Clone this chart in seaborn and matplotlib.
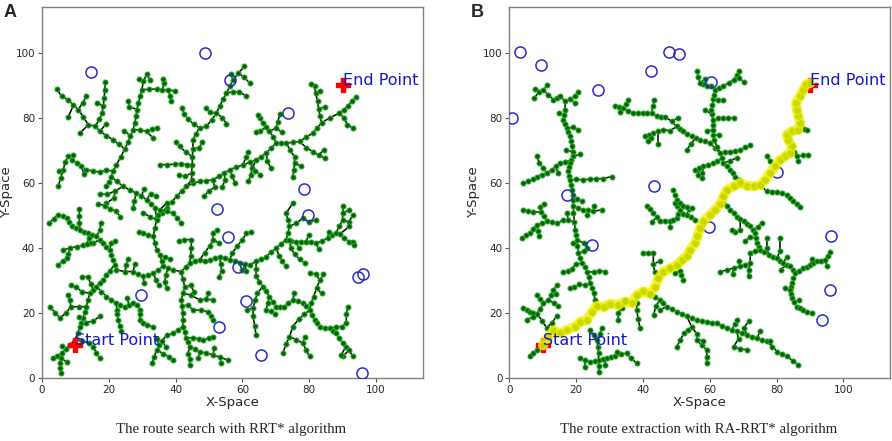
import pandas as pd
import matplotlib
matplotlib.use("Agg")
import matplotlib.pyplot as plt
import seaborn as sns

# ---------------- data ----------------
START = (10, 10)
END = (90, 90)

# obstacles (circles)
OBST_A_X = [14.7, 48.8, 56.2, 73.7, 78.3, 79.7, 52.5, 55.7, 58.7, 94.6, 96.0, 29.7, 61.2, 53.0, 65.5, 95.8]
OBST_A_Y = [94.0, 99.8, 91.5, 81.4, 58.2, 50.2, 52.0, 43.4, 34.2, 30.9, 32.1, 25.5, 23.8, 15.6, 7.0, 1.6]
OBST_B_X = [3.2, 9.4, 0.8, 26.4, 42.3, 47.9, 50.8, 60.3, 43.3, 17.2, 80.2, 24.8, 59.9, 96.2, 96.0, 93.5]
OBST_B_Y = [100.1, 96.2, 80.0, 88.6, 94.2, 100.1, 99.7, 91.1, 58.9, 56.2, 63.4, 41.0, 46.4, 43.7, 26.9, 17.8]

# panel A tree, branch by branch
TREE_A_NW = [
    [(4.4, 88.8), (5.9, 86.6), (7.9, 85.5), (9.4, 83.8), (10.9, 82.5), (12.4, 80.2), (13.9, 77.8), (16.0, 77.4),
     (17.3, 75.8), (19.3, 74.5), (21.3, 73.2), (23.0, 71.8), (24.8, 70.4)],
    [(9.4, 83.8), (7.9, 80.2)],
    [(10.9, 82.5), (12.2, 84.6), (13.3, 86.6)],
    [(13.9, 77.8), (11.4, 75.3)],
    [(16.0, 77.4), (17.2, 79.5), (18.0, 81.5), (18.4, 83.6), (18.6, 86.0), (18.8, 88.4), (19.0, 91.0)],
    [(18.4, 83.6), (16.5, 84.5)],
    [(17.3, 75.8), (19.2, 78.0)],
    [(24.8, 70.4), (25.8, 72.5), (26.5, 74.4), (27.3, 76.3), (27.8, 78.4), (28.2, 80.5), (28.4, 82.5), (28.9, 84.5),
     (29.4, 86.6), (29.9, 88.6), (30.4, 91.2), (31.4, 93.5)],
    [(29.9, 88.6), (32.0, 88.7), (34.3, 88.8), (36.0, 88.6), (37.8, 88.6), (39.7, 88.2)],
    [(36.0, 88.6), (36.6, 90.6), (36.3, 92.0)],
    [(37.8, 88.6), (38.3, 86.6), (38.6, 85.2)],
    [(28.4, 82.5), (26.2, 83.4), (25.8, 85.0)],
    [(27.3, 76.3), (29.3, 76.2), (31.3, 75.8), (33.3, 73.7)],
    [(31.3, 75.8), (33.0, 76.6), (34.3, 76.8)],
    [(30.4, 91.2), (29.0, 91.8)],
    [(31.4, 93.5), (32.3, 91.6)],
    [(26.5, 74.4), (24.6, 76.0)],
    [(24.8, 70.4), (23.6, 68.0), (22.3, 65.5), (21.2, 63.5), (20.8, 61.9), (20.0, 60.3), (19.3, 58.9)],
    [(21.2, 63.5), (19.3, 64.0), (17.3, 63.3), (15.3, 63.6), (13.3, 64.0), (11.8, 65.0), (10.4, 66.1), (9.0, 67.0),
     (7.9, 68.1), (6.9, 66.4), (6.4, 63.8), (5.6, 61.6), (4.9, 58.9)],
    [(7.9, 68.1), (9.2, 68.4)],
    [(6.4, 63.8), (5.0, 63.5)],
    [(11.8, 65.0), (12.6, 62.8)],
    [(20.8, 61.9), (22.4, 60.4), (24.3, 58.9), (26.3, 57.8), (28.3, 56.8), (29.8, 55.8), (31.3, 54.8), (32.6, 53.5),
     (33.8, 52.2), (34.3, 49.6)],
    [(24.3, 58.9), (22.0, 57.5), (19.5, 56.4), (17.3, 56.6)],
    [(22.0, 57.5), (21.5, 55.3), (19.3, 53.7)],
    [(28.3, 56.8), (27.6, 54.4), (27.3, 52.2)],
    [(29.8, 55.8), (30.5, 58.0)],
    [(31.3, 54.8), (32.5, 56.6), (34.0, 56.0)],
]

TREE_A_MID = [
    [(34.3, 49.6), (35.8, 50.8), (37.3, 52.2), (38.8, 54.0), (40.3, 55.8), (41.8, 57.4), (43.2, 58.9), (45.2, 59.8),
     (47.2, 60.4), (49.2, 60.6), (51.2, 60.9), (53.0, 62.0), (54.6, 63.0), (56.2, 64.0), (58.2, 64.8), (60.2, 65.5),
     (62.2, 66.3), (64.1, 67.1), (65.6, 68.0), (67.1, 69.1), (68.6, 70.6), (70.1, 72.2), (71.6, 72.2), (73.1, 72.2),
     (75.1, 72.4), (77.1, 72.7), (79.1, 74.0), (81.1, 75.3), (82.4, 76.9), (83.7, 78.4), (86.1, 79.9), (89.0, 81.4),
     (90.3, 82.5), (91.5, 83.5), (92.8, 85.0), (94.0, 86.4)],
    [(89.0, 81.4), (90.5, 79.8), (91.4, 77.9), (93.0, 76.8)],
    [(83.7, 78.4), (83.2, 80.6), (82.8, 82.8), (82.5, 85.0), (81.9, 87.6), (81.6, 89.6), (80.6, 90.5)],
    [(82.8, 82.8), (84.8, 83.3)],
    [(81.9, 87.6), (83.2, 88.2)],
    [(77.1, 72.7), (79.1, 70.8), (81.1, 69.6), (82.8, 68.5), (84.6, 67.6)],
    [(82.8, 68.5), (84.4, 70.2)],
    [(73.1, 72.2), (74.3, 70.0), (75.6, 68.0), (75.6, 66.0), (75.4, 63.8), (75.1, 61.9)],
    [(75.6, 66.0), (77.4, 65.2)],
    [(70.1, 72.2), (69.2, 74.2), (68.1, 75.8), (67.1, 77.0), (66.1, 78.4), (65.2, 80.0), (64.6, 80.9)],
    [(68.1, 75.8), (70.0, 76.8), (70.6, 78.8), (71.2, 81.0)],
    [(67.1, 77.0), (65.2, 76.0), (64.1, 75.5)],
    [(70.0, 76.8), (72.0, 75.5)],
    [(64.1, 67.1), (63.0, 64.5), (62.5, 62.5), (61.8, 60.5)],
    [(67.1, 69.1), (67.5, 66.6), (68.5, 64.5)],
    [(56.2, 64.0), (57.0, 62.0), (57.7, 60.0)],
    [(51.2, 60.9), (51.7, 58.6), (50.0, 57.5), (48.5, 55.8)],
    [(54.6, 63.0), (54.8, 60.8), (54.0, 58.8)],
    [(60.2, 65.5), (61.0, 67.8), (61.8, 69.5)],
    [(62.2, 66.3), (63.8, 63.5), (65.3, 62.5)],
    [(43.2, 58.9), (44.8, 60.8), (44.8, 63.0), (45.0, 65.5), (45.0, 68.0), (45.2, 70.5), (45.2, 73.0), (46.0, 75.0),
     (47.2, 76.8)],
    [(47.2, 76.8), (45.5, 78.0), (43.8, 79.5), (42.6, 81.2), (41.9, 83.0)],
    [(47.2, 76.8), (49.2, 77.3), (50.8, 79.3), (52.2, 81.4), (53.2, 83.6), (54.2, 85.6), (55.2, 87.6), (56.2, 89.6),
     (57.2, 91.7), (58.8, 93.6), (60.6, 95.8)],
    [(55.2, 87.6), (57.2, 88.0), (59.1, 87.8), (61.1, 86.8)],
    [(57.2, 91.7), (56.5, 93.5)],
    [(58.8, 93.6), (60.5, 92.5), (62.2, 90.6)],
    [(52.2, 81.4), (50.2, 81.8), (49.2, 83.0)],
    [(52.2, 81.4), (54.0, 80.0), (55.2, 78.2)],
    [(45.0, 65.5), (43.3, 65.6), (41.5, 65.9), (39.8, 65.7), (37.5, 65.6), (35.3, 65.5)],
    [(45.0, 68.0), (43.2, 69.3), (41.2, 71.2), (40.0, 72.5)],
    [(45.2, 70.5), (47.0, 70.8), (48.0, 72.4)],
    [(44.8, 63.0), (42.8, 62.0), (41.0, 62.3)],
]

TREE_A_SW = [
    [(2.2, 47.6), (3.5, 49.0), (4.9, 50.2), (6.2, 49.8), (7.4, 49.1), (8.2, 47.8), (8.9, 46.6), (10.2, 46.0),
     (11.4, 45.5), (12.6, 45.0), (13.9, 44.5), (15.1, 44.0), (16.3, 43.5), (17.3, 42.4), (18.3, 41.4), (19.3, 40.4),
     (20.3, 39.4), (20.8, 37.8), (21.3, 36.3), (21.8, 34.8), (22.3, 33.2), (24.8, 32.7), (27.3, 32.7), (28.8, 31.9),
     (30.3, 31.2), (31.8, 31.7), (33.3, 32.2), (34.8, 33.2), (36.3, 34.3), (37.8, 33.8), (39.2, 33.2), (41.7, 32.7)],
    [(11.4, 45.5), (11.2, 47.5), (11.2, 49.7), (11.2, 52.0)],
    [(16.3, 43.5), (17.4, 45.5), (17.6, 47.6)],
    [(20.3, 39.4), (20.6, 41.4), (21.9, 42.0)],
    [(17.3, 42.4), (15.3, 41.6), (14.3, 41.4), (12.3, 40.8), (10.4, 40.4), (8.4, 39.9), (6.4, 39.4)],
    [(8.4, 39.9), (7.9, 38.2), (7.4, 36.8), (6.2, 35.8), (4.9, 34.8)],
    [(13.5, 41.2), (14.0, 43.0)],
    [(27.3, 32.7), (27.8, 35.0)],
    [(30.3, 31.2), (30.6, 29.3)],
    [(24.8, 32.7), (25.3, 34.8), (25.8, 36.7)],
    [(33.3, 32.2), (34.2, 30.0), (35.0, 28.5)],
    [(16.8, 53.5), (18.8, 53.0), (20.5, 52.0), (22.3, 51.2), (23.5, 49.5)],
    [(21.8, 34.8), (20.3, 33.0), (19.3, 31.5), (18.3, 30.2), (17.3, 29.2), (16.3, 28.1), (15.3, 27.0), (14.3, 26.0),
     (13.8, 24.0), (13.3, 21.9), (12.8, 20.2), (12.3, 18.4), (11.8, 17.0), (11.4, 15.8), (10.7, 13.8), (9.9, 11.7),
     (8.4, 10.2), (7.2, 9.0), (5.9, 7.6), (5.6, 6.0), (5.4, 4.5), (5.5, 3.0), (5.6, 1.4)],
    [(9.9, 11.7), (10.0, 10.0)],
    [(5.9, 7.6), (4.5, 6.8), (3.4, 6.0)],
    [(5.6, 6.0), (7.4, 5.0)],
    [(7.2, 9.0), (6.0, 9.8)],
    [(13.3, 21.9), (11.0, 21.9), (8.7, 21.9), (7.2, 20.0), (5.4, 18.4), (4.0, 20.0), (2.4, 21.9)],
    [(8.7, 21.9), (8.3, 24.0), (7.8, 25.5)],
    [(14.3, 26.0), (12.0, 26.5), (10.2, 28.0), (8.6, 28.5)],
    [(11.4, 15.8), (13.3, 17.0), (15.3, 17.5), (17.3, 18.9)],
    [(9.9, 11.7), (12.0, 11.4), (14.0, 10.8), (15.3, 9.6), (16.3, 7.8), (17.3, 6.0)],
    [(15.3, 27.0), (14.6, 29.0), (13.7, 31.0), (11.9, 31.0)],
    [(12.3, 18.4), (11.0, 18.8)],
    [(16.3, 28.1), (17.8, 26.5), (19.3, 25.0), (20.8, 24.0), (22.3, 23.0), (23.5, 22.4), (24.8, 21.9), (26.0, 22.5),
     (27.3, 23.0), (28.5, 22.3), (29.3, 21.0), (29.3, 19.5), (29.3, 17.8), (30.3, 16.9), (31.3, 16.3), (33.3, 15.8)],
    [(22.3, 23.0), (22.4, 21.0), (22.6, 19.5), (22.8, 17.8), (23.3, 16.0), (23.8, 14.3)],
    [(26.0, 22.5), (25.6, 24.5)],
]

TREE_A_S = [
    [(41.7, 32.7), (42.2, 30.4), (42.7, 28.1), (42.2, 26.0), (41.7, 24.0), (41.9, 22.0), (42.2, 19.9), (42.2, 17.8),
     (42.2, 15.8), (42.7, 14.0), (43.2, 12.2), (43.7, 10.9), (44.2, 9.6), (45.7, 8.8), (47.2, 8.1), (49.2, 7.6),
     (51.2, 7.1), (53.4, 6.3), (55.7, 5.5)],
    [(42.2, 15.8), (40.7, 14.8), (39.2, 13.7), (37.5, 13.3), (36.0, 11.5), (35.0, 10.0), (34.3, 8.6), (33.6, 6.5),
     (32.9, 4.5)],
    [(36.0, 11.5), (37.0, 9.5)],
    [(44.2, 9.6), (43.7, 7.5), (44.2, 5.8), (44.2, 4.0)],
    [(34.3, 8.6), (36.3, 7.5), (38.0, 6.5), (39.2, 5.5)],
    [(35.0, 10.0), (34.5, 12.0)],
    [(41.9, 22.0), (43.7, 22.5), (45.2, 20.9), (47.5, 20.8), (49.8, 20.4), (50.5, 19.0), (51.2, 17.8)],
    [(42.2, 26.0), (44.5, 25.5), (47.2, 24.0), (49.2, 24.2), (51.2, 24.0)],
    [(49.2, 24.2), (49.8, 26.2)],
    [(43.2, 12.2), (45.2, 12.4), (47.0, 12.0), (48.2, 11.7), (50.0, 12.3), (51.2, 12.7)],
    [(47.2, 8.1), (46.8, 6.0)],
    [(51.2, 7.1), (51.6, 9.2)],
    [(53.4, 6.3), (53.6, 4.5)],
    [(42.7, 28.1), (44.5, 28.5), (45.5, 26.5)],
    [(36.3, 34.3), (35.8, 36.0), (35.3, 37.8), (34.3, 39.4), (33.8, 41.5), (33.3, 43.5), (31.8, 44.0), (30.3, 44.5),
     (29.0, 44.8)],
    [(33.3, 43.5), (33.8, 46.0), (34.3, 48.6), (34.8, 50.2), (35.3, 51.7), (37.3, 53.7)],
    [(34.3, 48.6), (32.3, 49.6), (30.3, 50.7)],
    [(35.3, 51.7), (37.3, 51.2), (39.2, 50.7), (40.5, 49.2), (41.7, 47.6)],
    [(35.3, 37.8), (36.8, 37.2), (38.3, 36.5)],
    [(37.8, 33.8), (37.0, 31.5), (36.8, 29.5), (37.3, 27.5)],
]

TREE_A_E = [
    [(41.7, 32.7), (43.0, 34.0), (44.2, 35.3), (45.7, 35.8), (47.2, 36.3), (48.7, 36.0), (50.2, 36.2), (51.7, 36.8),
     (53.2, 37.3), (54.7, 36.8), (56.2, 36.3), (57.7, 35.8), (59.2, 35.3), (60.7, 35.0), (62.2, 34.8), (64.1, 35.8),
     (65.6, 36.5), (67.1, 37.3), (68.6, 38.6), (70.1, 39.9), (71.6, 41.2), (73.1, 42.5), (74.6, 42.2), (76.1, 41.9),
     (77.6, 41.9), (79.1, 41.9), (80.6, 41.7), (82.1, 41.4), (83.8, 42.2), (85.6, 43.0), (86.8, 43.8), (88.0, 44.5),
     (89.2, 44.2), (90.5, 43.0), (91.8, 41.9), (93.0, 41.9)],
    [(44.2, 35.3), (44.5, 37.5), (44.7, 40.0), (44.7, 42.5), (42.5, 42.5), (41.0, 42.2)],
    [(47.2, 36.3), (48.7, 38.5), (50.2, 40.5), (51.2, 42.5), (51.2, 44.5), (52.5, 45.5)],
    [(51.2, 42.5), (53.0, 41.5)],
    [(53.2, 37.3), (53.5, 35.0), (53.8, 33.0), (53.0, 31.0)],
    [(56.2, 36.3), (57.0, 38.5), (58.5, 40.5), (60.0, 42.5), (61.2, 44.5), (62.5, 44.8)],
    [(59.2, 35.3), (59.8, 33.3)],
    [(60.7, 35.0), (61.2, 33.0)],
    [(70.1, 39.9), (71.0, 37.5), (72.0, 35.8), (73.0, 34.3)],
    [(73.1, 42.5), (73.6, 44.5), (74.1, 46.6), (73.6, 48.6), (73.1, 50.7), (75.1, 53.7)],
    [(74.1, 46.6), (76.0, 47.5), (78.1, 49.1), (80.0, 48.0), (82.0, 48.5)],
    [(74.1, 42.5), (74.5, 40.0), (75.6, 38.0), (77.1, 36.6), (78.6, 35.3)],
    [(76.1, 41.9), (76.8, 39.8)],
    [(79.1, 41.9), (79.8, 44.0)],
    [(82.1, 41.4), (82.8, 39.5)],
    [(85.6, 43.0), (85.8, 45.0)],
    [(88.0, 44.5), (89.0, 46.6), (90.0, 48.5), (90.0, 50.7), (90.2, 52.7)],
    [(90.0, 48.5), (92.0, 48.0), (93.0, 50.2)],
    [(90.0, 50.7), (91.8, 51.6)],
    [(89.2, 44.2), (92.0, 46.6)],
    [(91.8, 41.9), (93.5, 40.8)],
    [(64.1, 35.8), (64.1, 33.5), (64.1, 31.2), (65.1, 29.6), (66.1, 28.1), (67.1, 26.6), (68.1, 25.0), (69.1, 23.4),
     (70.1, 21.9), (71.3, 21.9), (72.6, 21.9), (73.8, 22.9), (75.1, 24.0), (76.6, 23.5), (78.1, 23.0), (79.1, 22.0),
     (80.1, 20.9), (80.8, 19.3), (81.6, 17.8), (82.3, 16.8), (83.1, 15.8), (84.6, 15.5), (86.1, 15.3), (87.0, 14.5),
     (88.0, 13.7), (89.0, 12.2), (90.0, 10.7), (91.0, 9.6), (92.0, 8.6), (93.0, 6.6)],
    [(66.1, 28.1), (64.5, 26.0), (63.8, 24.0), (63.2, 21.5), (63.2, 18.9), (63.7, 16.0), (64.1, 13.2)],
    [(63.2, 21.5), (61.5, 21.0)],
    [(68.1, 25.0), (67.6, 23.0), (67.1, 20.9), (68.6, 20.5), (69.8, 19.5)],
    [(80.1, 20.9), (80.6, 23.0), (81.3, 25.0), (82.2, 27.5), (83.1, 30.0), (82.0, 32.0), (80.1, 32.2)],
    [(83.1, 30.0), (84.2, 31.8)],
    [(82.2, 27.5), (83.8, 26.0)],
    [(80.1, 20.9), (78.5, 19.5), (76.8, 18.0), (75.1, 15.8), (74.1, 12.7), (73.1, 10.5), (72.1, 7.6)],
    [(74.1, 12.7), (76.0, 11.8), (78.1, 10.7), (79.0, 8.6), (80.1, 6.6)],
    [(78.1, 10.7), (78.6, 12.5)],
    [(86.1, 15.3), (88.0, 15.7), (89.9, 15.8), (91.1, 17.0), (91.1, 19.5), (91.6, 21.9)],
    [(92.0, 8.6), (90.0, 6.6)],
    [(91.0, 9.6), (89.5, 7.0)],
    [(75.1, 24.0), (75.5, 26.0)],
]

# panel B tree
TREE_B_W = [
    [(7.7, 88.8), (9.0, 88.0), (10.2, 88.4), (11.7, 87.0), (13.2, 85.5), (14.2, 86.0), (15.2, 86.6), (16.7, 85.0),
     (18.2, 85.8), (19.7, 86.6)],
    [(10.2, 88.4), (11.2, 89.9)],
    [(9.0, 88.0), (7.4, 86.0)],
    [(19.7, 86.6), (20.5, 88.0)],
    [(18.2, 85.8), (19.6, 84.6)],
    [(16.7, 85.0), (16.7, 82.5), (16.4, 80.9), (16.2, 79.4), (16.7, 78.0), (17.2, 76.8), (17.7, 75.5), (18.2, 74.3),
     (18.5, 72.8), (18.8, 71.2), (19.0, 69.6), (19.1, 68.1), (18.6, 67.0), (18.2, 66.0), (17.9, 64.7), (17.7, 63.5),
     (18.0, 62.2), (18.2, 60.9), (18.5, 59.3), (18.8, 57.8), (19.0, 56.3), (19.1, 54.8), (19.2, 52.7), (19.2, 50.7),
     (19.5, 48.0), (19.7, 45.5), (20.0, 44.0), (20.2, 42.5), (20.4, 40.5), (20.7, 38.4), (21.2, 36.8), (21.7, 35.3),
     (22.5, 34.0), (23.2, 32.7), (23.7, 31.0), (24.2, 29.1), (24.7, 27.5), (25.2, 26.0), (25.7, 24.0)],
    [(16.4, 80.9), (14.8, 81.5)],
    [(17.2, 76.8), (19.0, 77.0), (20.6, 76.3)],
    [(19.1, 68.1), (21.2, 68.8)],
    [(19.0, 69.6), (17.0, 70.0)],
    [(18.2, 60.9), (20.0, 61.0), (22.1, 60.9), (24.0, 61.1), (26.0, 61.2), (28.1, 61.3), (30.6, 61.9)],
    [(18.6, 67.0), (16.8, 66.4), (15.2, 66.0), (14.0, 65.0), (12.7, 64.0), (11.2, 63.0), (9.7, 62.5), (8.2, 61.9),
     (7.0, 61.0), (5.7, 60.4), (4.2, 60.0)],
    [(11.2, 63.0), (10.0, 64.5), (9.0, 66.0), (8.2, 68.1)],
    [(14.0, 65.0), (14.5, 63.0)],
    [(19.2, 52.7), (20.5, 52.3), (22.1, 51.7), (23.6, 51.5), (25.1, 51.2), (27.6, 51.7)],
    [(19.1, 54.8), (20.3, 55.0), (21.7, 54.3)],
    [(25.1, 51.2), (25.4, 53.0)],
    [(23.6, 51.5), (23.2, 50.0)],
    [(19.5, 48.0), (17.7, 48.5), (16.2, 48.5), (14.2, 47.6), (12.7, 48.0), (11.2, 48.1), (9.7, 47.5), (8.2, 47.1),
     (7.2, 45.8), (6.2, 44.5), (5.0, 43.8), (3.7, 43.1)],
    [(11.2, 48.1), (10.3, 49.7), (9.5, 51.0), (9.2, 52.5)],
    [(9.5, 51.0), (7.2, 51.0), (5.7, 51.3), (4.2, 51.7)],
    [(9.2, 52.5), (10.5, 53.5)],
    [(8.2, 47.1), (8.5, 45.2), (9.0, 43.5)],
    [(17.7, 48.5), (17.2, 50.8)],
    [(20.2, 42.5), (22.2, 41.5), (23.2, 40.0)],
    [(20.4, 40.5), (19.2, 41.5)],
    [(21.7, 35.3), (19.9, 35.0), (18.7, 33.5), (17.5, 32.8), (16.2, 32.7)],
    [(23.2, 32.7), (25.2, 32.5), (26.9, 33.0), (28.6, 32.7)],
    [(24.2, 29.1), (22.5, 28.5), (21.0, 28.8), (19.5, 28.0), (18.2, 27.5)],
    [(20.7, 38.4), (22.4, 39.0)],
    [(25.7, 24.0), (26.5, 22.2)],
]

TREE_B_SW = [
    [(4.2, 21.4), (5.2, 20.9), (6.2, 20.4), (7.2, 20.1), (8.2, 19.8), (9.2, 21.3), (10.2, 22.9), (11.7, 24.0),
     (12.5, 25.5), (13.2, 26.9), (14.2, 28.5)],
    [(10.2, 22.9), (9.2, 24.2), (8.2, 25.5)],
    [(8.2, 19.8), (7.0, 18.8), (5.2, 17.8)],
    [(11.7, 24.0), (13.5, 23.0), (14.5, 22.0)],
    [(12.5, 25.5), (14.0, 25.8)],
    [(8.2, 19.8), (9.8, 17.6), (11.2, 15.3), (12.7, 17.0), (14.2, 18.9)],
    [(6.2, 6.6), (7.2, 7.6), (8.2, 8.6), (9.7, 9.6)],
    [(21.2, 6.0), (22.7, 5.5), (24.2, 5.0), (25.5, 5.2), (26.7, 5.5), (28.0, 5.8), (29.1, 6.0), (30.3, 6.3),
     (31.6, 6.6), (33.3, 7.3), (35.1, 7.6), (36.5, 6.0), (38.1, 4.5)],
    [(26.7, 5.5), (26.7, 3.7), (26.7, 1.9)],
    [(22.7, 5.5), (22.6, 3.5)],
    [(26.7, 5.5), (26.7, 7.6), (26.5, 9.5), (26.2, 11.7), (25.2, 13.2), (24.2, 14.8)],
    [(26.2, 11.7), (27.0, 13.5), (27.6, 15.3)],
    [(31.6, 6.6), (32.3, 8.0)],
    [(29.1, 6.0), (28.5, 4.0)],
]

TREE_B_C = [
    [(42.1, 25.8), (43.6, 24.9), (45.1, 24.0), (46.1, 23.0), (47.1, 21.9), (48.6, 21.2), (50.1, 20.4), (51.6, 19.7),
     (53.1, 18.9), (54.6, 18.3), (56.1, 17.8), (57.6, 17.5), (59.1, 17.3), (60.6, 17.0), (62.1, 16.8), (63.6, 16.0),
     (65.1, 15.3), (66.6, 14.8), (68.1, 14.3), (69.6, 13.8), (71.1, 13.2), (72.6, 12.7), (74.1, 12.2), (75.6, 11.7),
     (77.1, 11.2), (78.7, 9.6), (80.2, 8.1), (81.6, 7.3), (83.0, 6.6), (84.8, 5.3), (86.5, 4.0)],
    [(53.1, 18.9), (54.6, 15.7), (53.4, 14.7), (52.2, 13.7), (51.2, 11.7), (50.1, 9.6)],
    [(54.6, 15.7), (56.1, 13.5), (56.1, 11.7), (57.6, 10.1), (59.1, 8.6), (59.1, 6.5), (59.1, 4.5)],
    [(56.1, 11.7), (58.0, 11.5)],
    [(66.6, 14.8), (67.5, 16.5), (68.1, 17.8)],
    [(68.1, 14.3), (68.6, 12.0), (67.1, 9.6), (69.0, 9.0), (71.1, 8.6)],
    [(71.1, 13.2), (70.2, 15.5), (71.8, 17.5)],
    [(74.1, 12.2), (75.1, 14.4)],
    [(78.7, 9.6), (78.0, 11.5)],
    [(45.1, 24.0), (43.8, 22.0), (43.2, 19.3)],
    [(47.1, 21.9), (45.2, 21.0)],
    [(38.1, 25.5), (38.1, 23.0), (38.1, 20.9), (38.6, 18.0), (39.1, 15.3)],
    [(34.6, 23.5), (33.6, 21.5), (32.6, 19.9), (32.6, 17.8)],
    [(44.6, 30.7), (43.5, 32.5), (43.1, 35.0), (43.1, 38.4), (41.6, 38.4), (40.1, 38.4)],
    [(43.1, 35.0), (45.1, 35.9)],
    [(50.1, 34.8), (51.0, 33.0), (51.5, 31.5), (52.0, 30.2)],
    [(48.1, 33.7), (49.5, 32.2)],
    [(41.1, 52.7), (42.0, 51.8), (43.1, 50.7), (44.1, 49.4), (45.1, 48.1), (46.6, 48.1), (48.1, 48.1), (49.1, 48.6),
     (50.1, 49.2), (50.6, 50.4), (51.1, 51.7), (50.3, 52.7), (49.5, 53.7)],
    [(48.1, 48.1), (48.1, 46.5)],
    [(50.6, 50.4), (52.0, 50.5), (53.1, 50.2), (54.3, 49.4), (55.6, 48.6)],
    [(53.1, 50.2), (53.8, 52.0)],
    [(44.1, 49.4), (42.8, 48.0)],
    [(49.1, 57.8), (49.6, 56.3), (50.1, 54.8), (51.1, 53.7), (52.1, 52.7), (53.3, 52.5), (54.6, 52.2)],
]

TREE_B_N = [
    [(31.6, 83.5), (32.8, 83.3), (34.1, 83.0), (35.6, 82.2), (37.1, 81.5), (38.6, 81.5), (40.1, 81.5), (41.3, 81.5),
     (42.6, 81.4), (44.1, 80.4), (45.3, 80.3), (46.6, 80.2), (48.6, 78.9), (50.1, 77.3), (51.1, 76.5), (52.1, 75.8),
     (53.3, 75.0), (54.6, 74.3), (55.8, 73.8), (57.1, 73.2), (58.6, 72.7), (60.1, 72.2), (61.6, 70.6), (63.1, 69.1),
     (64.6, 69.3), (66.1, 69.6), (67.6, 69.9), (69.1, 70.1), (70.6, 70.9), (72.1, 71.7)],
    [(34.1, 83.0), (35.0, 84.3), (35.6, 85.5)],
    [(32.8, 83.3), (33.1, 81.8)],
    [(42.6, 81.4), (43.0, 83.5), (43.3, 85.5)],
    [(48.6, 78.9), (50.6, 80.0)],
    [(50.1, 77.3), (48.1, 76.0), (46.1, 76.3), (44.6, 75.8), (43.1, 75.3), (41.8, 74.8), (40.6, 74.3)],
    [(43.1, 75.3), (42.4, 73.6), (41.6, 72.7)],
    [(44.6, 75.8), (44.6, 72.0)],
    [(55.8, 73.8), (54.4, 72.0), (53.1, 70.1)],
    [(63.1, 69.1), (62.2, 71.0), (61.3, 73.2), (61.0, 74.7), (60.9, 76.2), (60.9, 77.8), (60.9, 79.4), (60.6, 81.0),
     (60.4, 82.5), (60.8, 84.0), (61.1, 85.6), (61.3, 87.1), (61.5, 88.6), (60.3, 89.8), (59.1, 89.6)],
    [(59.1, 89.6), (58.0, 90.3), (57.1, 90.7), (56.6, 92.5), (56.1, 94.3)],
    [(57.1, 90.7), (58.5, 91.8)],
    [(61.5, 88.6), (62.8, 89.2), (64.0, 89.7), (65.6, 90.7), (67.1, 91.7), (68.0, 93.0), (68.6, 94.3)],
    [(67.1, 91.7), (68.6, 92.2), (70.1, 91.1)],
    [(60.6, 81.0), (58.6, 82.5)],
    [(60.9, 79.4), (62.5, 79.8), (64.0, 79.9), (65.5, 79.9), (67.1, 79.9)],
    [(61.1, 85.6), (62.5, 85.4), (64.0, 85.3)],
    [(60.9, 76.2), (59.3, 76.0)],
    [(61.0, 74.7), (62.8, 74.7)],
    [(63.1, 69.1), (63.6, 67.5), (64.1, 66.0), (65.1, 65.0), (66.1, 63.9), (66.9, 62.9), (67.6, 61.9), (68.6, 60.8)],
    [(63.6, 67.5), (62.3, 66.8), (61.1, 66.0), (59.6, 65.5), (58.1, 65.0), (56.8, 64.4), (55.6, 63.9)],
    [(58.1, 65.0), (57.8, 63.0), (57.6, 61.5)],
    [(64.1, 66.0), (66.0, 66.8), (68.1, 67.6)],
    [(56.8, 64.4), (56.6, 62.5)],
    [(75.1, 59.4), (77.0, 57.4), (78.5, 57.3), (80.0, 57.2), (81.5, 56.8), (83.0, 56.3), (84.0, 55.3), (85.0, 54.3),
     (86.0, 53.5), (87.0, 52.6)],
    [(84.5, 71.2), (85.2, 69.6), (86.0, 68.1), (87.8, 68.4), (89.5, 68.6)],
    [(86.0, 68.1), (86.5, 66.8)],
    [(87.0, 78.4), (88.2, 76.5), (89.0, 76.3)],
    [(79.5, 65.0), (78.0, 66.6), (77.0, 68.1)],
]

TREE_B_E = [
    [(65.1, 57.8), (64.1, 55.5), (64.1, 53.7), (65.1, 52.7), (66.1, 51.7), (67.1, 50.6), (68.1, 49.6), (69.1, 48.8),
     (70.1, 48.1), (71.1, 47.3), (72.1, 46.6), (72.8, 45.5), (73.6, 44.5), (73.8, 43.0), (74.1, 41.5), (74.6, 40.4),
     (75.1, 39.4), (76.3, 38.6), (77.6, 37.8), (78.8, 37.3), (80.1, 36.8), (81.0, 36.0), (82.0, 35.3), (83.0, 34.8),
     (84.0, 34.3), (84.8, 33.2), (85.5, 32.2), (86.8, 32.9), (88.0, 33.7), (89.0, 34.2), (90.0, 34.8), (91.0, 35.3),
     (92.0, 35.8), (93.2, 36.0), (94.5, 36.3), (95.3, 37.5), (96.0, 38.8)],
    [(85.5, 32.2), (85.0, 30.6), (84.5, 29.1), (84.2, 28.1), (84.0, 27.1), (84.2, 25.8), (84.5, 24.5), (85.2, 23.2),
     (86.0, 21.9), (87.0, 21.4), (88.0, 20.9), (89.2, 20.4), (90.5, 19.9)],
    [(69.1, 48.8), (69.1, 45.5), (67.6, 44.8), (66.6, 45.5)],
    [(72.8, 45.5), (74.5, 46.5), (75.5, 47.6)],
    [(73.8, 43.0), (72.0, 43.3), (70.5, 42.0)],
    [(75.1, 39.4), (73.6, 39.0), (72.1, 38.5), (72.1, 35.3), (70.6, 34.8), (69.1, 34.3), (67.1, 33.8), (65.1, 33.2),
     (63.1, 32.7)],
    [(72.1, 35.3), (71.6, 33.3), (71.6, 31.4)],
    [(69.1, 34.3), (68.6, 36.0)],
    [(67.1, 33.8), (66.8, 32.0)],
    [(77.6, 37.8), (77.1, 40.0), (77.1, 43.0)],
    [(80.1, 36.8), (81.0, 39.0), (81.0, 43.0)],
    [(82.0, 35.3), (83.0, 37.3)],
    [(83.0, 34.8), (81.3, 33.3)],
    [(94.5, 36.3), (95.0, 34.3)],
    [(90.0, 34.8), (90.5, 36.5)],
    [(84.0, 27.1), (82.5, 27.5)],
    [(85.2, 23.2), (86.8, 24.0)],
]

# extracted route in panel B
PATH_B = [
    (10.0, 10.0), (11.5, 12.5), (13.2, 14.6), (15.2, 13.7), (17.2, 14.8), (19.7, 15.8), (21.2, 17.3), (23.2, 17.8),
    (24.7, 20.4), (26.2, 22.2), (28.2, 21.9), (30.1, 22.8), (32.6, 22.5), (34.6, 23.5), (36.6, 23.0), (38.1, 25.5),
    (40.1, 26.6), (42.1, 25.8), (43.6, 28.1), (44.6, 30.7), (46.1, 32.7), (48.1, 33.7), (50.1, 34.8), (51.6, 36.3),
    (53.1, 37.4), (54.1, 39.4), (55.6, 41.4), (56.3, 43.5), (57.1, 46.1), (58.1, 48.1), (60.1, 50.2), (61.6, 51.7),
    (63.1, 53.5), (64.1, 55.8), (65.1, 57.8), (67.1, 58.9), (69.1, 60.0), (71.1, 59.1), (73.1, 58.9), (75.1, 59.4),
    (76.5, 60.9), (78.0, 63.0), (79.5, 65.0), (81.0, 67.1), (82.5, 68.1), (84.0, 69.1), (84.5, 71.2), (83.5, 73.2),
    (83.0, 74.8), (84.5, 75.8), (86.5, 76.3), (87.0, 78.4), (86.5, 80.4), (86.0, 82.5), (85.8, 84.5), (87.0, 86.6),
    (88.0, 88.6), (88.8, 90.2), (90.0, 90.7),
]

CAPTION_A = "The route search with RRT* algorithm"
CAPTION_B = "The route extraction with RA-RRT* algorithm"
X_TICKS = [0, 20, 40, 60, 80, 100]
Y_TICKS = [0, 20, 40, 60, 80, 100]


def tree_frame(*groups):
    rows = []
    bid = 0
    for g in groups:
        for br in g:
            for x, y in br:
                rows.append((bid, x, y))
            bid += 1
    return pd.DataFrame(rows, columns=["branch", "x", "y"])


def draw_panel(ax, tree, obs_x, obs_y, path=None):
    # edges
    sns.lineplot(data=tree, x="x", y="y", units="branch", estimator=None, sort=False,
                 color="black", linewidth=1.1, ax=ax, legend=False, zorder=2)
    # nodes
    nodes = tree[["x", "y"]].drop_duplicates()
    sns.scatterplot(data=nodes, x="x", y="y", color="#086308", edgecolor="#30b830",
                    s=14, linewidth=0.6, ax=ax, zorder=3, legend=False)
    ax.plot(obs_x, obs_y, "o", ms=8, mfc="none", mec="#2b2bc4", mew=1.1, zorder=4)
    ax.plot(*START, marker="P", ms=10, color="red", mec="red", zorder=5)
    ax.plot(*END, marker="P", ms=10, color="red", mec="red", zorder=5)
    if path is not None:
        px = [p[0] for p in path]
        py = [p[1] for p in path]
        ax.plot(px, py, color="#f0f000", lw=7, alpha=0.75, solid_capstyle="round", zorder=6)
        ax.plot(px, py, "o", ms=5.5, mfc="#c6d400", mec="#e8ef00", mew=0.8, alpha=0.9, zorder=7)
    ax.text(START[0], START[1], "Start Point", color="#1515d0", fontsize=11.5, zorder=8)
    ax.text(END[0], END[1], "End Point", color="#1515d0", fontsize=11.5, zorder=8)
    ax.set_xlim(0, 114)
    ax.set_ylim(0, 114)
    ax.set_xticks(X_TICKS)
    ax.set_yticks(Y_TICKS)
    ax.set_xlabel("X-Space", fontsize=9.5, labelpad=1)
    ax.set_ylabel("Y-Space", fontsize=9.5, labelpad=2)
    ax.tick_params(labelsize=7.5, length=3, width=0.8, color="#555555", pad=2)
    for sp in ax.spines.values():
        sp.set_color("#808080")
        sp.set_linewidth(1.0)


sns.set_style("ticks")
plt.rcParams["font.family"] = ["DejaVu Sans"]

fig = plt.figure(figsize=(8.92, 4.41), dpi=100)
axA = fig.add_axes([0.047, 0.143, 0.427, 0.841])
axB = fig.add_axes([0.571, 0.143, 0.427, 0.841])

tree_a = tree_frame(TREE_A_NW, TREE_A_MID, TREE_A_SW, TREE_A_S, TREE_A_E)
tree_b = tree_frame(TREE_B_W, TREE_B_SW, TREE_B_C, TREE_B_N, TREE_B_E)

draw_panel(axA, tree_a, OBST_A_X, OBST_A_Y)
draw_panel(axB, tree_b, OBST_B_X, OBST_B_Y, PATH_B)

fig.text(0.004, 0.99, "A", fontsize=13, fontweight="bold", va="top", ha="left", family="Liberation Sans")
fig.text(0.528, 0.99, "B", fontsize=13, fontweight="bold", va="top", ha="left", family="Liberation Sans")
fig.text(0.259, 0.025, CAPTION_A, fontsize=10.7, ha="center", va="center", family="Liberation Serif")
fig.text(0.783, 0.025, CAPTION_B, fontsize=10.7, ha="center", va="center", family="Liberation Serif")

fig.savefig("out.png", dpi=100)
